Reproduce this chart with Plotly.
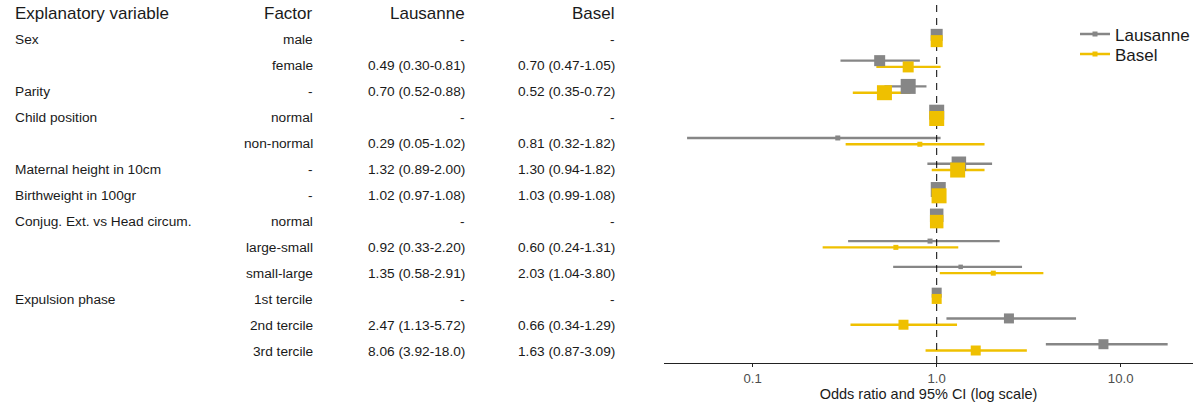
import plotly.graph_objects as go

# ---------------- data ----------------
variables = ["Sex", "", "Parity", "Child position", "", "Maternal height in 10cm",
             "Birthweight in 100gr", "Conjug. Ext. vs Head circum.", "", "",
             "Expulsion phase", "", ""]
factors = ["male", "female", "-", "normal", "non-normal", "-", "-", "normal",
           "large-small", "small-large", "1st tercile", "2nd tercile", "3rd tercile"]
lausanne_text = ["-", "0.49 (0.30-0.81)", "0.70 (0.52-0.88)", "-", "0.29 (0.05-1.02)",
                 "1.32 (0.89-2.00)", "1.02 (0.97-1.08)", "-", "0.92 (0.33-2.20)",
                 "1.35 (0.58-2.91)", "-", "2.47 (1.13-5.72)", "8.06 (3.92-18.0)"]
basel_text = ["-", "0.70 (0.47-1.05)", "0.52 (0.35-0.72)", "-", "0.81 (0.32-1.82)",
              "1.30 (0.94-1.82)", "1.03 (0.99-1.08)", "-", "0.60 (0.24-1.31)",
              "2.03 (1.04-3.80)", "-", "0.66 (0.34-1.29)", "1.63 (0.87-3.09)"]

lausanne_or = [1, 0.49, 0.70, 1, 0.29, 1.32, 1.02, 1, 0.92, 1.35, 1, 2.47, 8.06]
lausanne_lo = [None, 0.30, 0.52, None, 0.044, 0.89, 0.97, None, 0.33, 0.58, None, 1.13, 3.92]
lausanne_hi = [None, 0.81, 0.88, None, 1.05, 2.00, 1.08, None, 2.20, 2.91, None, 5.72, 18.0]
basel_or = [1, 0.70, 0.52, 1, 0.81, 1.30, 1.03, 1, 0.60, 2.03, 1, 0.66, 1.63]
basel_lo = [None, 0.47, 0.35, None, 0.32, 0.94, 0.99, None, 0.24, 1.04, None, 0.34, 0.87]
basel_hi = [None, 1.05, 0.72, None, 1.82, 1.82, 1.08, None, 1.31, 3.80, None, 1.29, 3.09]

headers = ["Explanatory variable", "Factor", "Lausanne", "Basel"]
x_ticks = [0.1, 1, 10]
x_tick_labels = ["0.1", "1.0", "10.0"]

# ---------------- style ----------------
GREY = "#868686"
YELLOW = "#EFC000"
FONT = "Liberation Sans, Arial, sans-serif"
W, H = 1200, 407
PLOT_H = 363
grey_size = [12, 11, 15, 15, 5, 14.5, 15, 13.5, 5, 4.5, 10, 10, 10]
yellow_size = [12, 11, 15, 15, 5, 15, 15, 13.5, 5, 5, 10, 10, 10]
dodge = 0.122
rows = list(range(1, len(factors) + 1))
y_plot_range = [13.607, -0.474]
y_table_range = [13.4615, -0.5]


def seg(lo, hi, ys):
    xs, yy = [], []
    for a, b, y in zip(lo, hi, ys):
        if a is None:
            continue
        xs += [a, b, None]
        yy += [y, y, None]
    return xs, yy


y_grey = [r - dodge for r in rows]
y_yel = [r + dodge for r in rows]

fig = go.Figure()
gx, gy = seg(lausanne_lo, lausanne_hi, y_grey)
fig.add_trace(go.Scatter(x=gx, y=gy, mode="lines", line=dict(color=GREY, width=2.4),
                         showlegend=False, hoverinfo="skip"))
bx, by = seg(basel_lo, basel_hi, y_yel)
fig.add_trace(go.Scatter(x=bx, y=by, mode="lines", line=dict(color=YELLOW, width=2.4),
                         showlegend=False, hoverinfo="skip"))
# reference line OR = 1
fig.add_trace(go.Scatter(x=[1, 1], y=y_plot_range, mode="lines",
                         line=dict(color="black", width=1, dash="7px,6px"),
                         showlegend=False, hoverinfo="skip"))
fig.add_trace(go.Scatter(x=lausanne_or, y=y_grey, mode="markers",
                         marker=dict(symbol="square", color=GREY, size=grey_size,
                                     opacity=1, line=dict(width=0)),
                         showlegend=False))
fig.add_trace(go.Scatter(x=basel_or, y=y_yel, mode="markers",
                         marker=dict(symbol="square", color=YELLOW, size=yellow_size,
                                     opacity=1, line=dict(width=0)),
                         showlegend=False))
# legend entries
for name, col, lg in [("Lausanne", GREY, "legend"), ("Basel", YELLOW, "legend2")]:
    fig.add_trace(go.Scatter(x=[None], y=[None], mode="lines+markers", name=name,
                             line=dict(color=col, width=2.4), legend=lg,
                             marker=dict(symbol="square", size=5, color=col)))

# table text
ann = []
col_x = [(13, "left"), (315, "right"), (466.5, "right"), (617, "right")]
for (cx, anc), h in zip(col_x, headers):
    ann.append(dict(x=cx / W, y=0, xref="paper", yref="y2", text=h, showarrow=False,
                    xanchor=anc, yanchor="middle", font=dict(size=17, color="#1a1a1a", family=FONT)))
for cols in zip(rows, variables, factors, lausanne_text, basel_text):
    r = cols[0]
    for (cx, anc), t in zip(col_x, cols[1:]):
        if t == "":
            continue
        ann.append(dict(x=cx / W, y=r, xref="paper", yref="y2", text=t, showarrow=False,
                        xanchor=anc, yanchor="middle", font=dict(size=13.7, color="#1a1a1a", family=FONT)))

legend_common = dict(x=1075 / W, xanchor="left", yanchor="middle",
                     font=dict(size=17, color="#1a1a1a", family=FONT), bgcolor="rgba(0,0,0,0)")

fig.update_layout(
    width=W, height=H,
    margin=dict(l=0, r=0, t=0, b=H - PLOT_H),
    paper_bgcolor="white", plot_bgcolor="white",
    font=dict(family=FONT),
    annotations=ann,
    xaxis=dict(type="log", range=[-1.482, 1.393], domain=[664 / W, 1193 / W],
               tickvals=x_ticks, ticktext=x_tick_labels, showgrid=False, zeroline=False,
               showline=True, linecolor="#222", linewidth=1, ticks="outside", ticklen=3,
               tickcolor="#222", tickfont=dict(size=13.2, color="#4d4d4d", family=FONT),
               title=dict(text="Odds ratio and 95% CI (log scale)", standoff=4,
                          font=dict(size=14.5, color="#1a1a1a", family=FONT))),
    yaxis=dict(range=y_plot_range, domain=[0, 1], visible=False, showgrid=False, zeroline=False),
    yaxis2=dict(range=y_table_range, overlaying="y", visible=False, showgrid=False, zeroline=False),
    legend=dict(y=1 - 34.5 / PLOT_H, **legend_common),
    legend2=dict(y=1 - 54.5 / PLOT_H, **legend_common),
)

fig.write_html("out.html", config={"displayModeBar": False},
               post_script="document.body.style.margin='0';document.body.style.padding='0';")
